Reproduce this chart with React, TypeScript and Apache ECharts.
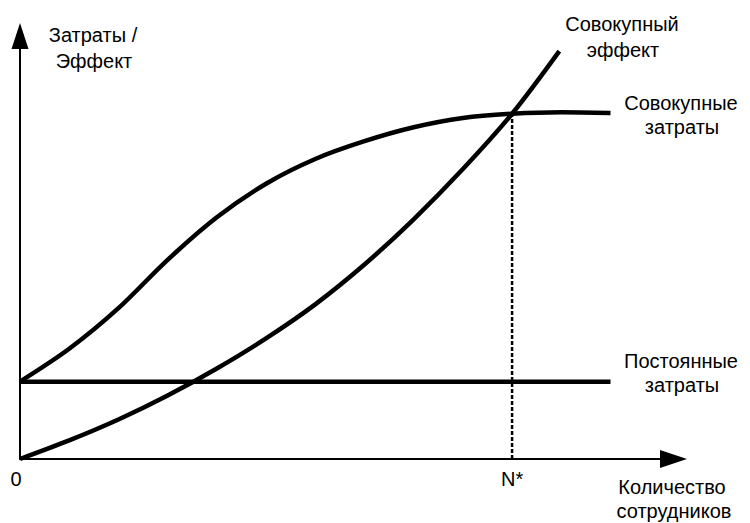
import React, { useEffect, useRef } from "react";
import * as echarts from "echarts";

// x in units where N* = 10, y in arbitrary cost/effect units
const xMax = 13.28;
const yMax = 10.94;
const nStar = 10;
const fixedCost = 2;
const fixedCostEnd = 12;

const totalCostX = [0, 1, 2, 3, 4, 5, 6, 7, 8, 9, 10, 11, 12];
const totalCostY = [2, 2.85, 3.9, 5.15, 6.25, 7.12, 7.76, 8.22, 8.58, 8.82, 8.93, 8.97, 8.95];

const effectX = [0, 1, 2, 3, 4, 5, 6, 7, 8, 9, 10, 10.96];
const effectY = [0, 0.48, 1.02, 1.64, 2.34, 3.12, 4.0, 5.03, 6.2, 7.5, 8.93, 10.55];

const nStarLevel = 8.93;

const yTitle = ["Затраты /", "Эффект"];
const xTitle = ["Количество", "сотрудников"];
const effectLabel = ["Совокупный", "эффект"];
const costLabel = ["Совокупные", "затраты"];
const fixedLabel = ["Постоянные", "затраты"];
const xTickLabels: Record<number, string> = { 0: "0", 10: "N*" };

const FONT = "'Liberation Sans', Arial, sans-serif";

export default function App() {
  const ref = useRef<HTMLDivElement>(null);
  useEffect(() => {
    if (!ref.current) return;
    const chart = echarts.init(ref.current, null, { renderer: "svg" });
    const zip = (xs: number[], ys: number[]) => xs.map((x, i) => [x, ys[i]]);
    const textEl = (t: string, x: number, y: number) => ({
      type: "text",
      x,
      y,
      style: {
        text: t,
        fill: "#000",
        font: `20px ${FONT}`,
        textAlign: "center",
        textVerticalAlign: "middle",
      },
    });
    const lineStyle = { color: "#000", width: 4.5 };
    chart.setOption({
      animation: false,
      backgroundColor: "#fff",
      grid: { left: 20, right: 76.5, top: 36, bottom: 64 },
      xAxis: {
        type: "value",
        min: 0,
        max: xMax,
        interval: 10,
        splitLine: { show: false },
        axisTick: { show: false },
        axisLine: {
          show: true,
          onZero: false,
          symbol: ["none", "triangle"],
          symbolSize: [18, 27],
          lineStyle: { color: "#000", width: 2 },
        },
        axisLabel: {
          show: true,
          margin: 10,
          color: "#000",
          fontSize: 20,
          fontFamily: FONT,
          showMaxLabel: false,
          formatter: (v: number) =>
            v === 0 ? "{z|" + xTickLabels[0] + "}" : xTickLabels[v] ?? "",
          rich: { z: { fontSize: 20, fontFamily: FONT, color: "#000", padding: [0, 8, 0, 0] } },
        },
      },
      yAxis: {
        type: "value",
        min: 0,
        max: yMax,
        splitLine: { show: false },
        axisTick: { show: false },
        axisLabel: { show: false },
        axisLine: {
          show: true,
          onZero: false,
          symbol: ["none", "triangle"],
          symbolSize: [17, 26],
          lineStyle: { color: "#000", width: 2 },
        },
      },
      series: [
        {
          type: "line",
          data: [[0, fixedCost], [fixedCostEnd, fixedCost]],
          showSymbol: false,
          lineStyle,
        },
        {
          type: "line",
          data: zip(totalCostX, totalCostY),
          smooth: 0.3,
          showSymbol: false,
          lineStyle,
        },
        {
          type: "line",
          data: zip(effectX, effectY),
          smooth: 0.3,
          showSymbol: false,
          lineStyle,
        },
        {
          type: "line",
          data: [[nStar, 0], [nStar, nStarLevel]],
          showSymbol: false,
          lineStyle: { color: "#000", width: 2.5, type: [4, 2] },
          z: 1,
        },
      ],
      graphic: [
        textEl(yTitle[0], 93, 35),
        textEl(yTitle[1], 94, 61),
        textEl(effectLabel[0], 622, 24),
        textEl(effectLabel[1], 623, 50),
        textEl(costLabel[0], 681, 103),
        textEl(costLabel[1], 682, 127),
        textEl(fixedLabel[0], 681, 361),
        textEl(fixedLabel[1], 682, 385),
        textEl(xTitle[0], 672, 487),
        textEl(xTitle[1], 674, 511),
      ],
    });
    return () => chart.dispose();
  }, []);
  return (
    <div
      ref={ref}
      style={{ position: "fixed", left: 0, top: 0, width: 750, height: 523 }}
    />
  );
}
